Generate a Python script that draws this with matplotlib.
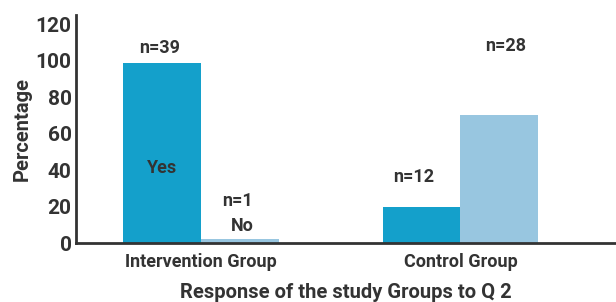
import numpy as np
import matplotlib.pyplot as plt

# data
groups = ["Intervention Group", "Control Group"]
yes_pct = [99, 20]
no_pct = [2.5, 70]
yes_n = ["n=39", "n=12"]
no_n = ["n=1", "n=28"]
yticks = [0, 20, 40, 60, 80, 100, 120]

plt.rcParams['font.family'] = ['Roboto', 'DejaVu Sans']
txt = '#333333'

fig = plt.figure(figsize=(6.16, 3.02), dpi=100)
ax = fig.add_axes([0.123, 0.195, 0.877, 0.755])

x = np.arange(len(groups))
w = 0.30
ax.bar(x - w/2, yes_pct, w, color='#14a0cb')
ax.bar(x + w/2, no_pct, w, color='#98c6e0')

ax.set_xlim(-0.483, 1.60)
ax.set_ylim(0, 125)
ax.set_yticks(yticks)
ax.set_yticklabels([str(t) for t in yticks], fontsize=15, fontweight='bold', color=txt)
ax.set_xticks(x)
ax.set_xticklabels(groups, fontsize=13, fontweight='bold', color=txt)
ax.tick_params(length=0, pad=3)
ax.tick_params(axis='x', pad=7)

for s in ['top', 'right']:
    ax.spines[s].set_visible(False)
for s in ['left', 'bottom']:
    ax.spines[s].set_color('#333333')
    ax.spines[s].set_linewidth(2)

ax.set_ylabel("Percentage", fontsize=14.5, fontweight='bold', color=txt, labelpad=3)
ax.set_xlabel("Response of the study Groups to Q 2", fontsize=14.5, fontweight='bold',
              color=txt, labelpad=9)

# n labels
fs = 13
ax.text(x[0] - w/2 - 0.01, 107, yes_n[0], ha='center', va='center', fontsize=fs,
        fontweight='bold', color=txt)
ax.text(x[0] - w/2, 41, "Yes", ha='center', va='center', fontsize=fs,
        fontweight='bold', color=txt)
ax.text(x[0] + w/2 - 0.01, 23, no_n[0], ha='center', va='center', fontsize=fs,
        fontweight='bold', color=txt)
ax.text(x[0] + w/2 + 0.01, 9.5, "No", ha='center', va='center', fontsize=fs,
        fontweight='bold', color=txt)
ax.text(x[1] - w/2 - 0.03, 36, yes_n[1], ha='center', va='center', fontsize=fs,
        fontweight='bold', color=txt)
ax.text(x[1] + w/2 + 0.025, 108, no_n[1], ha='center', va='center', fontsize=fs,
        fontweight='bold', color=txt)

fig.savefig("out.png", dpi=100)
